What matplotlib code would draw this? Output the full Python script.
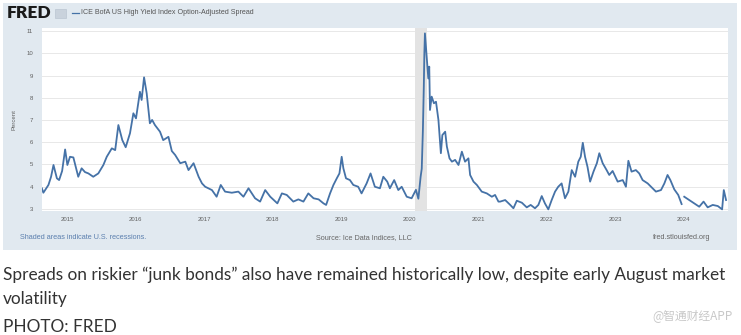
import matplotlib
matplotlib.use("Agg")
import matplotlib.pyplot as plt
from matplotlib.patches import Rectangle
import numpy as np
import pandas as pd

# ---------------- data ----------------
dates = [
    "2014-08-19", "2014-08-27", "2014-09-23", "2014-10-07", "2014-10-20", "2014-11-07", "2014-11-19",
    "2014-12-05", "2014-12-21", "2015-01-02", "2015-01-16", "2015-02-03", "2015-03-01", "2015-03-19",
    "2015-04-06", "2015-04-24", "2015-05-20", "2015-06-16", "2015-07-13", "2015-07-31", "2015-08-27",
    "2015-09-14", "2015-10-01", "2015-10-22", "2015-11-09", "2015-12-02", "2015-12-20", "2016-01-03",
    "2016-01-24", "2016-02-02", "2016-02-15", "2016-02-29", "2016-03-17", "2016-03-29", "2016-04-13",
    "2016-05-10", "2016-05-27", "2016-06-24", "2016-07-12", "2016-07-30", "2016-08-26", "2016-09-22",
    "2016-10-09", "2016-11-05", "2016-12-02", "2016-12-20", "2017-01-06", "2017-02-11", "2017-03-08",
    "2017-03-30", "2017-04-22", "2017-05-28", "2017-07-02", "2017-07-29", "2017-08-25", "2017-09-29",
    "2017-10-26", "2017-11-22", "2017-12-19", "2018-01-26", "2018-02-19", "2018-03-17", "2018-04-21",
    "2018-05-18", "2018-06-14", "2018-07-10", "2018-08-07", "2018-09-03", "2018-09-29", "2018-10-13",
    "2018-11-03", "2018-11-21", "2018-12-09", "2018-12-23", "2019-01-04", "2019-01-13", "2019-01-27",
    "2019-02-17", "2019-03-07", "2019-04-02", "2019-04-20", "2019-05-17", "2019-06-07", "2019-06-30",
    "2019-07-27", "2019-08-14", "2019-09-04", "2019-09-18", "2019-10-11", "2019-11-02", "2019-11-20",
    "2019-12-17", "2020-01-12", "2020-02-04", "2020-02-17", "2020-02-29", "2020-03-06", "2020-03-12",
    "2020-03-17", "2020-03-20", "2020-03-23", "2020-04-05", "2020-04-10", "2020-04-15", "2020-04-19",
    "2020-04-28", "2020-05-10", "2020-05-21", "2020-06-03", "2020-06-16", "2020-06-24", "2020-07-09",
    "2020-07-18", "2020-08-01", "2020-08-14", "2020-08-31", "2020-09-18", "2020-10-06", "2020-10-23",
    "2020-11-10", "2020-11-19", "2020-12-07", "2020-12-25", "2021-01-20", "2021-02-16", "2021-03-15",
    "2021-04-01", "2021-04-19", "2021-04-28", "2021-05-25", "2021-06-21", "2021-07-08", "2021-07-26",
    "2021-08-22", "2021-09-17", "2021-10-08", "2021-10-31", "2021-11-18", "2021-12-06", "2021-12-23",
    "2022-01-10", "2022-01-28", "2022-02-15", "2022-03-04", "2022-03-22", "2022-04-09", "2022-04-27",
    "2022-05-15", "2022-06-02", "2022-06-19", "2022-07-02", "2022-07-13", "2022-07-25", "2022-08-07",
    "2022-08-21", "2022-09-08", "2022-09-26", "2022-10-09", "2022-10-27", "2022-11-17", "2022-12-01",
    "2022-12-19", "2023-01-15", "2023-02-11", "2023-02-28", "2023-03-13", "2023-03-30", "2023-04-22",
    "2023-05-10", "2023-05-28", "2023-06-24", "2023-07-20", "2023-08-07", "2023-09-03", "2023-09-21",
    "2023-10-08", "2023-10-23", "2023-11-13", "2023-12-04", "2023-12-22", "2023-12-28", "2024-01-05",
    "2024-02-01", "2024-02-28", "2024-03-25", "2024-04-17", "2024-05-09", "2024-06-05", "2024-07-02",
    "2024-07-25", "2024-08-03", "2024-08-15",
]
spread = [
    3.92, 3.72, 4.07, 4.44, 4.97, 4.37, 4.29,
    4.70, 5.67, 4.97, 5.34, 5.31, 4.44, 4.82,
    4.65, 4.59, 4.44, 4.59, 4.97, 5.34, 5.72,
    5.64, 6.77, 6.09, 5.77, 6.40, 7.30, 7.07,
    8.27, 7.90, 8.92, 8.20, 6.85, 7.00, 6.77,
    6.47, 6.09, 6.24, 5.60, 5.42, 5.05, 5.12,
    4.74, 5.05, 4.44, 4.14, 3.99, 3.84, 3.54,
    4.07, 3.77, 3.72, 3.77, 3.54, 3.92, 3.47,
    3.32, 3.84, 3.54, 3.24, 3.69, 3.62, 3.32,
    3.42, 3.32, 3.69, 3.47, 3.42, 3.24, 3.17,
    3.69, 4.07, 4.37, 4.59, 5.34, 4.82, 4.37,
    4.29, 4.07, 3.99, 3.69, 4.14, 4.59, 3.99,
    3.92, 4.44, 4.22, 3.92, 4.29, 3.84, 3.99,
    3.54, 3.47, 3.85, 3.45, 4.44, 4.80, 6.50,
    8.50, 10.00, 10.90, 9.40, 8.87, 9.40, 7.45,
    8.05, 7.75, 7.82, 7.00, 5.50, 6.32, 6.47,
    5.80, 5.27, 5.12, 5.20, 4.97, 5.57, 5.12,
    5.27, 4.52, 4.22, 4.07, 3.77, 3.69, 3.54,
    3.62, 3.32, 3.32, 3.39, 3.17, 3.02, 3.36,
    3.27, 3.06, 3.17, 3.02, 3.17, 3.57, 3.24,
    2.97, 3.39, 3.77, 3.99, 4.14, 3.47, 3.77,
    4.74, 4.44, 5.12, 5.34, 5.97, 5.34, 4.89,
    4.22, 4.67, 5.05, 5.50, 5.05, 4.74, 4.52,
    4.70, 4.22, 4.29, 3.99, 5.16, 4.67, 4.74,
    4.59, 4.29, 4.14, 3.92, 3.77, 3.84, 4.14,
    4.52, 4.29, 3.87, 3.62, 3.21, np.nan, 3.54,
    3.39, 3.24, 3.09, 3.32, 3.06, 3.17, 3.12,
    2.97, 3.84, 3.39,
]
year_ticks = ["2015", "2016", "2017", "2018", "2019", "2020", "2021", "2022", "2023", "2024"]
y_ticks = [3, 4, 5, 6, 7, 8, 9, 10, 11]
recession_start = "2020-02-01"
recession_end = "2020-04-01"
x_range = ("2014-08-17", "2024-08-27")
y_range = (2.91, 11.13)

title = "ICE BofA US High Yield Index Option-Adjusted Spread"
caption1 = "Spreads on riskier \u201cjunk bonds\u201d also have remained historically low, despite early August market"
caption2 = "volatility"
caption3 = "PHOTO: FRED"
watermark = "@智通财经APP"

# ---------------- figure ----------------
W, H = 741, 335
fig = plt.figure(figsize=(W / 100, H / 100), dpi=100)
fig.patch.set_facecolor("white")

def fx(px):
    return px / W

def fy(py):
    return 1 - py / H

PANEL = "#e1e9f0"
LINE = "#4572a7"
SANS = ["Liberation Sans", "DejaVu Sans"]

# FRED panel background (an axes drawn beneath the plot)
bg = fig.add_axes([fx(3), fy(250), fx(737) - fx(3), fy(3) - fy(250)], zorder=-5)
bg.set_facecolor(PANEL)
bg.set_xticks([])
bg.set_yticks([])
for s in bg.spines.values():
    s.set_visible(False)

ax = fig.add_axes([fx(41.5), fy(210.7), fx(728.3) - fx(41.5), fy(28.3) - fy(210.7)], zorder=2)
ax.set_facecolor("white")

x = pd.to_datetime(dates)
ax.axvspan(pd.Timestamp(recession_start), pd.Timestamp(recession_end), color="#e3e3e3", lw=0, zorder=1)
ax.plot(x, spread, color=LINE, lw=1.3, solid_joinstyle="round", zorder=3)

ax.set_xlim(pd.Timestamp(x_range[0]), pd.Timestamp(x_range[1]))
ax.set_ylim(*y_range)
ax.set_yticks(y_ticks)
ax.set_yticklabels([str(v) for v in y_ticks])
ax.set_xticks([pd.Timestamp(f"{y}-01-01") for y in year_ticks])
ax.set_xticklabels(year_ticks)
ax.grid(axis="y", color="#e8e8e8", lw=0.7, zorder=0)
ax.set_axisbelow(True)
for s in ax.spines.values():
    s.set_visible(False)
ax.tick_params(axis="both", length=0, labelsize=4.3, labelcolor="#606060")
ax.tick_params(axis="y", pad=6)
ax.tick_params(axis="x", pad=4.5)
for lab in ax.get_xticklabels() + ax.get_yticklabels():
    lab.set_fontfamily(SANS)

fig.text(fx(14.5), fy(119.5), "Percent", rotation=90, ha="center", va="center",
         fontsize=4.3, color="#606060", family=SANS)

# header
fig.text(fx(7), fy(13), "FRED", ha="left", va="center", fontsize=12.5, fontweight="heavy",
         color="#1a1a1a", family=["Lato", "Liberation Sans", "DejaVu Sans"])
fig.patches.append(Rectangle((fx(55), fy(18)), fx(66) - fx(55), fy(9) - fy(18),
                             transform=fig.transFigure, facecolor="#c9d2dc", edgecolor="#b5c0cc",
                             lw=0.4, zorder=2))
fig.lines.append(plt.Line2D([fx(72), fx(79)], [fy(12.7), fy(12.7)], transform=fig.transFigure,
                            color=LINE, lw=0.9))
fig.text(fx(81), fy(12.7), title, ha="left", va="center", fontsize=5.1, color="#555555", family=SANS)

# footer of FRED panel
fig.text(fx(20), fy(237.5), "Shaded areas indicate U.S. recessions.", ha="left", va="center",
         fontsize=5.2, color="#5b7fae", family=SANS)
fig.text(fx(316), fy(237.5), "Source: Ice Data Indices, LLC", ha="left", va="center",
         fontsize=5.2, color="#666666", family=SANS)
fig.text(fx(710), fy(237.5), "fred.stlouisfed.org", ha="right", va="center",
         fontsize=5.2, color="#666666", family=SANS)

# caption (fit the first line to the reference width)
CAP = ["Lato", "DejaVu Sans"]
t1 = fig.text(fx(3), fy(280), caption1, ha="left", va="baseline", fontsize=11, color="#333333", family=CAP)
fig.canvas.draw()
r = fig.canvas.get_renderer()
wpx = t1.get_window_extent(r).width
fs = 11 * (724 / wpx)
t1.set_fontsize(fs)
fig.text(fx(3), fy(304), caption2, ha="left", va="baseline", fontsize=fs, color="#333333", family=CAP)
fig.text(fx(3), fy(332), caption3, ha="left", va="baseline", fontsize=fs, color="#333333", family=CAP)

fig.text(fx(733), fy(316), watermark, ha="right", va="center", fontsize=8.5, color="#c8c8c8",
         family=["Noto Sans CJK SC", "DejaVu Sans"])

fig.savefig("out.png", dpi=100, facecolor="white")
